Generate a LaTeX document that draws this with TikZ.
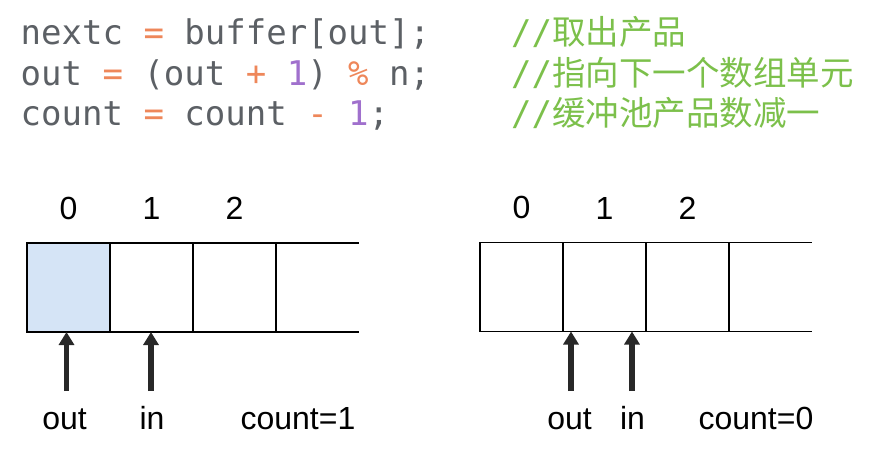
\documentclass[tikz,border=0pt]{standalone}
\usepackage{fontspec}
\setmainfont{Liberation Sans}
\setmonofont{DejaVu Sans Mono}
\newfontfamily\cjk{Noto Sans CJK SC}
\usetikzlibrary{arrows.meta,calc,positioning}
\definecolor{codegray}{RGB}{92,96,101}
\definecolor{opc}{RGB}{238,135,90}
\definecolor{numc}{RGB}{160,112,205}
\definecolor{cmtc}{RGB}{124,192,75}
\definecolor{cellfill}{RGB}{213,228,246}
\definecolor{ptrdark}{RGB}{40,40,40}

\begin{document}
\begin{tikzpicture}[x=1pt,y=-1pt,
		code/.style={anchor=base west, inner sep=0pt, text=codegray, font=\ttfamily\fontsize{34}{40}\selectfont},
		comment/.style={anchor=base west, inner sep=0pt, text=cmtc, font=\ttfamily\fontsize{34}{40}\selectfont},
		cell/.style={draw, line width=1.5pt, minimum width=83pt, minimum height=89pt, inner sep=0pt, outer sep=0pt},
		opencell/.style={cell, draw=none},
		filled/.style={cell, fill=cellfill},
		lbl/.style={inner sep=0pt, font=\fontsize{32}{36}\selectfont},
		ptr/.style={-{Triangle[width=15pt,length=13pt]}, line width=5.5pt, draw=ptrdark}]
		\useasboundingbox (0,0) rectangle (887,458);

		% code lines
		\node[code] (line1) at (20.5,44.5) {nextc \textcolor{opc}{=} buffer[out];};
		\node[code] (line2) at (20.5,85) {out \textcolor{opc}{=} (out \textcolor{opc}{+} \textcolor{numc}{1}) \textcolor{opc}{\%} n;};
		\node[code] (line3) at (20.5,125.5) {count \textcolor{opc}{=} count \textcolor{opc}{-} \textcolor{numc}{1};};
		\node[comment] (cmt1) at (511,44.5) {//{\cjk\fontsize{33.5}{40}\selectfont 取出产品}};
		\node[comment] (cmt2) at (511,85) {//{\cjk\fontsize{33.5}{40}\selectfont 指向下一个数组单元}};
		\node[comment] (cmt3) at (511,125.5) {//{\cjk\fontsize{33.5}{40}\selectfont 缓冲池产品数减一}};

		% left buffer
		\node[filled] (l0) at (68.5,287.5) {};
		\node[cell, right=0pt of l0] (l1) {};
		\node[cell, right=0pt of l1] (l2) {};
		\node[opencell, right=0pt of l2] (l3) {};
		\draw[line width=1.5pt] (l3.north west) -- (l3.north east) (l3.south west) -- (l3.south east);
		\node[lbl, above=23pt of l0] (lidx0) {0};
		\node[lbl, above=23pt of l1] (lidx1) {1};
		\node[lbl, above=23pt of l2] (lidx2) {2};

		\coordinate (louttail) at (66.5,391);
		\coordinate (lintail) at (151,391);
		\draw[ptr] (louttail) -- (louttail |- l0.south);
		\draw[ptr] (lintail) -- (lintail |- l1.south);
		\node[lbl, anchor=base] (lout) at (64.5,429) {out};
		\node[lbl, anchor=base] (lin) at (152,429) {in};
		\node[lbl, anchor=base] (lcount) at (298,429) {count=1};

		% right buffer
		\node[cell] (r0) at (521.5,287) {};
		\node[cell, right=0pt of r0] (r1) {};
		\node[cell, right=0pt of r1] (r2) {};
		\node[opencell, right=0pt of r2] (r3) {};
		\draw[line width=1.5pt] (r3.north west) -- (r3.north east) (r3.south west) -- (r3.south east);
		\node[lbl, above=23pt of r0] (ridx0) {0};
		\node[lbl, above=23pt of r1] (ridx1) {1};
		\node[lbl, above=23pt of r2] (ridx2) {2};

		\coordinate (routtail) at (571,391);
		\coordinate (rintail) at (632,391);
		\draw[ptr] (routtail) -- (routtail |- r1.south);
		\draw[ptr] (rintail) -- (rintail |- r1.south);
		\node[lbl, anchor=base] (rout) at (569.5,429) {out};
		\node[lbl, anchor=base] (rin) at (632.5,429) {in};
		\node[lbl, anchor=base] (rcount) at (756,429) {count=0};
	\end{tikzpicture}
\end{document}
